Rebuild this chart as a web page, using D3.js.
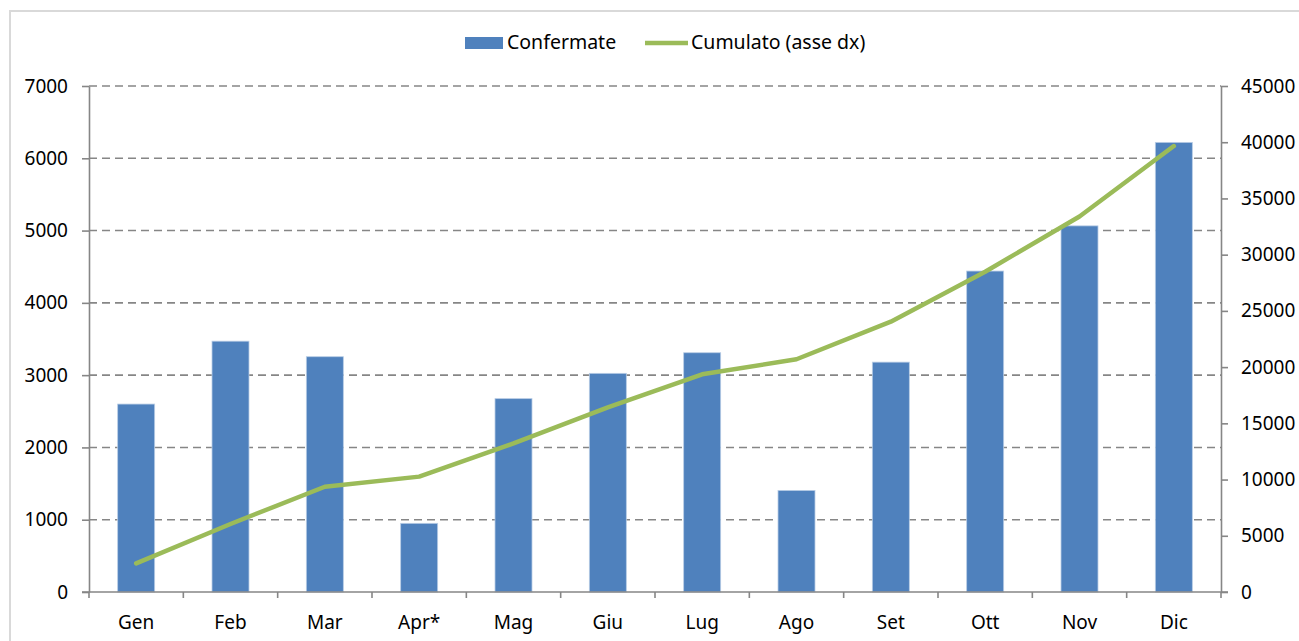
<!DOCTYPE html>
<html lang="it">
<head>
<meta charset="UTF-8">
<title>Confermate e cumulato</title>
<script src="https://d3js.org/d3.v7.min.js"></script>
<style>
  body { margin: 0; background: #fff; }
  svg { display: block; font-family: 'Noto Sans', 'Open Sans', sans-serif; }
  .frame { fill: #fff; stroke: #d9d9d9; stroke-width: 2; }
  .grid line { stroke: #868686; stroke-width: 1.6; stroke-dasharray: 8 5; }
  .axis path, .axis line { stroke: #868686; stroke-width: 1.6; }
  .axis text { fill: #000; font-size: 19px; font-family: 'Noto Sans', 'Open Sans', sans-serif; }
  .legend text { font-size: 19.5px; fill: #000; }
</style>
</head>
<body>
<svg width="1299" height="641"></svg>
<script>
// mesi
const mesi = ["Gen", "Feb", "Mar", "Apr*", "Mag", "Giu", "Lug", "Ago", "Set", "Ott", "Nov", "Dic"];
// confermate (asse sx)
const confermate = [2600, 3470, 3255, 950, 2675, 3025, 3310, 1405, 3180, 4440, 5065, 6220];
// cumulato (asse dx)
const cumulato = [2550, 6050, 9360, 10260, 13220, 16420, 19360, 20700, 24040, 28480, 33400, 39660];
const ticksSx = [0, 1000, 2000, 3000, 4000, 5000, 6000, 7000];
const ticksDx = [0, 5000, 10000, 15000, 20000, 25000, 30000, 35000, 40000, 45000];

const svg = d3.select("svg");
const m = { left: 89, right: 1221, top: 86, bottom: 592 };

// cornice
svg.append("rect").attr("class", "frame")
  .attr("x", 10).attr("y", 11).attr("width", 1300).attr("height", 650);

const xb = d3.scaleBand().domain(mesi).range([m.left, m.right]);
const ySx = d3.scaleLinear().domain([0, 7000]).range([m.bottom, m.top]);
const yDx = d3.scaleLinear().domain([0, 45000]).range([m.bottom, m.top]);

// griglia tratteggiata
svg.append("g").attr("class", "grid")
  .selectAll("line").data(ticksSx.slice(1)).enter().append("line")
  .attr("x1", m.left).attr("x2", m.right)
  .attr("y1", d => ySx(d)).attr("y2", d => ySx(d));

// barre
svg.append("g").selectAll("rect").data(confermate).enter().append("rect")
  .attr("x", (d, i) => xb(mesi[i]) + xb.bandwidth() / 2 - 18.5)
  .attr("width", 37)
  .attr("y", d => ySx(d))
  .attr("height", d => ySx(0) - ySx(d))
  .attr("fill", "#4f81bd")
  .attr("stroke", "#b9cde5").attr("stroke-width", 0.8);

// assi
svg.append("g").attr("class", "axis")
  .attr("transform", `translate(${m.left},0)`)
  .call(d3.axisLeft(ySx).tickValues(ticksSx).tickFormat(d3.format("d"))
    .tickSize(7).tickPadding(14).tickSizeOuter(0));

svg.append("g").attr("class", "axis")
  .attr("transform", `translate(${m.right},0)`)
  .call(d3.axisRight(yDx).tickValues(ticksDx).tickFormat(d3.format("d"))
    .tickSize(7).tickPadding(13).tickSizeOuter(0));

// asse x con tacche ai confini delle categorie
const axX = svg.append("g").attr("class", "axis")
  .attr("transform", `translate(0,${m.bottom})`);
axX.append("line").attr("x1", m.left - 7).attr("x2", m.right + 7);
axX.selectAll(".tk").data(d3.range(mesi.length + 1)).enter().append("line")
  .attr("x1", i => m.left + i * xb.step()).attr("x2", i => m.left + i * xb.step())
  .attr("y1", 0).attr("y2", 6);
axX.selectAll("text").data(mesi).enter().append("text")
  .attr("x", d => xb(d) + xb.bandwidth() / 2)
  .attr("y", 37)
  .attr("text-anchor", "middle")
  .text(d => d);

// linea cumulato
const line = d3.line()
  .x((d, i) => xb(mesi[i]) + xb.bandwidth() / 2)
  .y(d => yDx(d));
svg.append("path").datum(cumulato)
  .attr("d", line)
  .attr("fill", "none")
  .attr("stroke", "#9bbb59")
  .attr("stroke-width", 4.5)
  .attr("stroke-linecap", "round")
  .attr("stroke-linejoin", "round");

// legenda
const lg = svg.append("g").attr("class", "legend");
lg.append("rect").attr("x", 465).attr("y", 37).attr("width", 38).attr("height", 12).attr("fill", "#4f81bd");
lg.append("text").attr("x", 507).attr("y", 49).text("Confermate");
lg.append("line").attr("x1", 645).attr("x2", 688).attr("y1", 43).attr("y2", 43)
  .attr("stroke", "#9bbb59").attr("stroke-width", 4.5);
lg.append("text").attr("x", 691).attr("y", 49).text("Cumulato (asse dx)");
</script>
</body>
</html>
